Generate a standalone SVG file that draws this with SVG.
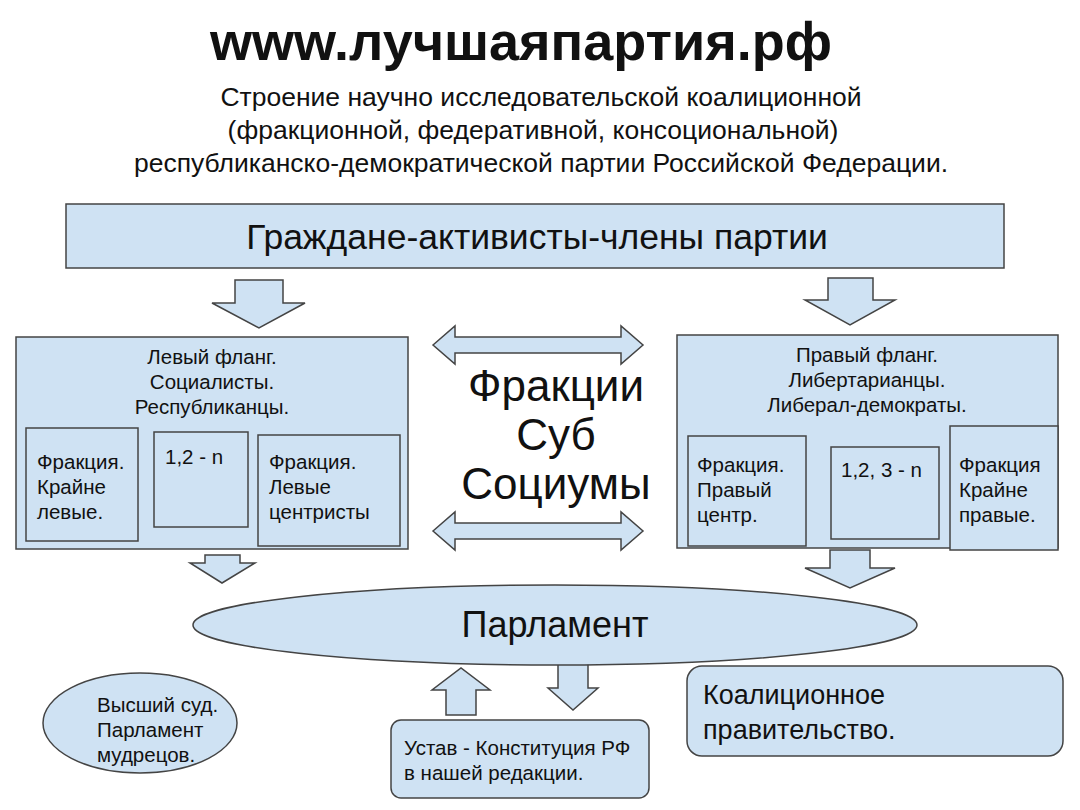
<svg xmlns="http://www.w3.org/2000/svg" width="1080" height="810" viewBox="0 0 1080 810">
<style>
text{font-family:"Liberation Sans",Arial,sans-serif;fill:#111}
.b{fill:#cfe2f3;stroke:#444;stroke-width:1.5}
.s{font-size:20.5px}
</style>
<rect width="1080" height="810" fill="#fff"/>
<g id="title"><text x="521" y="60" font-size="54" font-weight="bold" text-anchor="middle">www.лучшаяпартия.рф</text>
<text x="541" y="106" font-size="26.5" text-anchor="middle">Строение научно исследовательской коалиционной</text>
<text x="533" y="139" font-size="26.5" text-anchor="middle">(фракционной, федеративной, консоциональной)</text>
<text x="541" y="172" font-size="26.5" text-anchor="middle">республиканско-демократической партии Российской Федерации.</text></g>
<g id="top"><rect class="b" x="66" y="204" width="938" height="64"/><text x="537" y="249" font-size="35.5" text-anchor="middle">Граждане-активисты-члены партии</text></g>
<g id="connectors">
<path class="b" d="M235,280H283V303H305L259,328L212,303H235Z"/>
<path class="b" d="M828,278H873V300H895L850,325L805,300H828Z"/>
<path class="b" d="M433,345L455,326V337H621V326L643,345L621,364V353H455V364Z"/>
<path class="b" d="M433,531L455,512V523H621V512L643,531L621,550V539H455V550Z"/>
<path class="b" d="M205,555H240V563H255L222,583L190,563H205Z"/>
<path class="b" d="M830,550H870V568H895L850,588L805,568H830Z"/>
<path class="b" d="M446,715H476V690H490L461,668L432,690H446Z"/>
<path class="b" d="M558,663H588V688H598L573,710L548,688H558Z"/>
</g>
<g id="left"><rect class="b" x="16" y="337" width="392" height="212"/>
<text class="s" x="212" y="364" text-anchor="middle">Левый фланг.</text>
<text class="s" x="212" y="389" text-anchor="middle">Социалисты.</text>
<text class="s" x="212" y="414" text-anchor="middle">Республиканцы.</text></g>
<g id="l1"><rect class="b" x="26" y="428" width="112" height="113"/><text class="s" x="37" y="469">Фракция.</text><text class="s" x="37" y="494">Крайне</text><text class="s" x="37" y="519">левые.</text></g>
<g id="l2"><rect class="b" x="154" y="432" width="94" height="95"/><text class="s" x="165" y="464">1,2 - n</text></g>
<g id="l3"><rect class="b" x="258" y="435" width="142" height="111"/><text class="s" x="269" y="469">Фракция.</text><text class="s" x="269" y="494">Левые</text><text class="s" x="269" y="519">центристы</text></g>
<g id="right"><rect class="b" x="677" y="335" width="381" height="213"/>
<text class="s" x="867" y="362" text-anchor="middle">Правый фланг.</text>
<text class="s" x="867" y="387" text-anchor="middle">Либертарианцы.</text>
<text class="s" x="867" y="412" text-anchor="middle">Либерал-демократы.</text></g>
<g id="r1"><rect class="b" x="688" y="436" width="118" height="110"/><text class="s" x="697" y="472">Фракция.</text><text class="s" x="697" y="497">Правый</text><text class="s" x="697" y="522">центр.</text></g>
<g id="r2"><rect class="b" x="831" y="447" width="108" height="92"/><text class="s" x="841" y="477">1,2, 3 - n</text></g>
<g id="r3"><rect class="b" x="950" y="426" width="108" height="124"/><text class="s" x="959" y="472">Фракция</text><text class="s" x="959" y="497">Крайне</text><text class="s" x="959" y="522">правые.</text></g>
<g id="center"><text x="556" y="401" font-size="44" text-anchor="middle">Фракции</text><text x="556" y="450" font-size="44" text-anchor="middle">Суб</text><text x="556" y="499" font-size="44" text-anchor="middle">Социумы</text></g>
<g id="parl"><ellipse class="b" cx="555" cy="625" rx="362" ry="40"/><text x="555" y="637" font-size="36" text-anchor="middle">Парламент</text></g>
<g id="court"><ellipse class="b" cx="140" cy="723" rx="97" ry="50"/><text class="s" x="97" y="712">Высший суд.</text><text class="s" x="97" y="737">Парламент</text><text class="s" x="97" y="762">мудрецов.</text></g>
<g id="ustav"><rect class="b" x="391" y="720" width="258" height="78" rx="10"/><text class="s" x="404" y="755">Устав - Конституция РФ</text><text class="s" x="404" y="780">в нашей редакции.</text></g>
<g id="gov"><rect class="b" x="687" y="666" width="376" height="90" rx="15"/><text x="703" y="704" font-size="27" text-anchor="start">Коалиционное</text><text x="703" y="739" font-size="27">правительство.</text></g>
</svg>
